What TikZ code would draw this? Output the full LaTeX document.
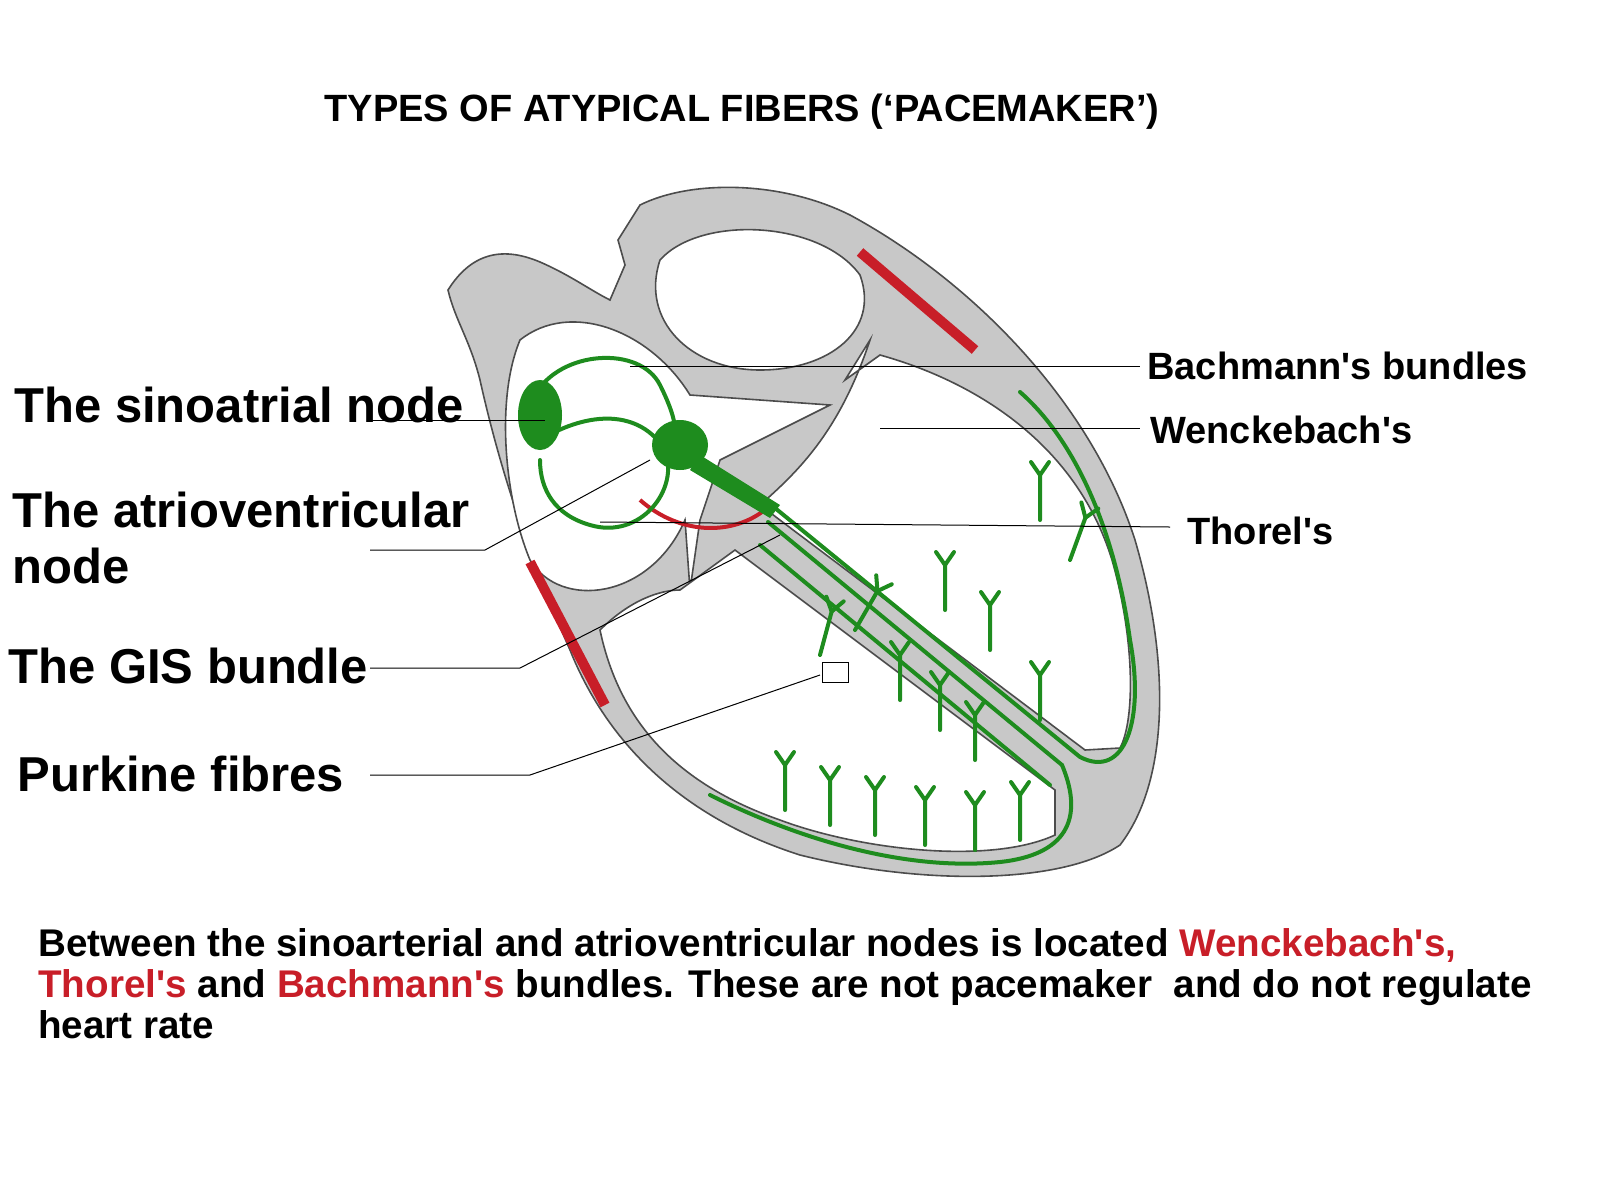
\documentclass[tikz,border=0pt]{standalone}
\usepackage{fontspec}
\setmainfont{Liberation Sans}
\usetikzlibrary{positioning}
\definecolor{wall}{RGB}{200,200,200}
\definecolor{fibre}{RGB}{30,140,30}
\definecolor{scar}{RGB}{200,30,40}
\newcommand\ap{\textquotesingle}
\tikzset{
  label text/.style={font=\bfseries\fontsize{24.5}{29}\selectfont,anchor=west,inner sep=0pt},
  side text/.style={font=\bfseries\fontsize{19}{22}\selectfont,anchor=west,inner sep=0pt},
  leader/.style={black,line width=0.5pt},
  fibre line/.style={fibre,line width=2pt,line cap=round},
  pics/twig/.style={code={
    \draw[fibre line] (0,0) -- (0,-45) -- (-9,-58);
    \draw[fibre line] (0,-45) -- (9,-58);
  }}
}
\begin{document}
\begin{tikzpicture}[x=0.5pt,y=-0.5pt]
\useasboundingbox (0,0) rectangle (1600,1200);
% heart wall
\fill[wall,draw=black!70,line width=0.8pt]
  (448,290) .. controls (470,255) and (500,245) .. (540,262)
  .. controls (570,275) and (590,290) .. (610,300)
  -- (625,265) -- (618,240) -- (640,205)
  .. controls (690,180) and (780,180) .. (850,215)
  .. controls (970,280) and (1090,400) .. (1135,540)
  .. controls (1170,660) and (1170,780) .. (1120,845)
  .. controls (1060,885) and (920,885) .. (800,855)
  .. controls (690,820) and (610,750) .. (570,650)
  .. controls (530,560) and (500,470) .. (480,380)
  .. controls (470,340) and (455,320) .. (448,290) -- cycle;
% chambers
\fill[white,draw=black!70,line width=0.8pt]
  (520,340) .. controls (570,300) and (650,330) .. (690,395)
  -- (830,405) -- (720,460) -- (700,520) -- (690,590) -- (685,520)
  .. controls (650,600) and (560,610) .. (530,560)
  .. controls (505,500) and (495,400) .. (520,340) -- cycle;
\fill[white,draw=black!70,line width=0.8pt]
  (660,260) .. controls (700,215) and (820,220) .. (860,275)
  .. controls (880,330) and (830,370) .. (760,370)
  .. controls (690,370) and (640,320) .. (660,260) -- cycle;
\fill[white,draw=black!70,line width=0.8pt]
  (870,340) -- (845,380) -- (880,355)
  .. controls (970,380) and (1075,440) .. (1112,560)
  .. controls (1135,640) and (1135,720) .. (1120,748)
  -- (1085,750) -- (760,505)
  .. controls (800,470) and (840,430) .. (870,340) -- cycle;
\fill[white,draw=black!70,line width=0.8pt]
  (600,630) .. controls (630,600) and (660,590) .. (680,590)
  -- (735,550) -- (1055,790) -- (1055,835)
  .. controls (990,865) and (860,850) .. (780,820)
  .. controls (680,785) and (620,725) .. (600,630) -- cycle;
% red
\draw[scar,line width=5pt] (860,252) -- (975,350);
\draw[scar,line width=5pt] (530,562) -- (605,705);
\draw[scar,line width=2pt] (640,500) .. controls (680,535) and (730,535) .. (762,512);
% green conduction
\draw[fibre line] (535,395) .. controls (560,350) and (640,345) .. (660,385) .. controls (670,405) and (675,420) .. (675,430);
\draw[fibre line] (540,440) .. controls (590,410) and (640,410) .. (665,450)
  .. controls (680,490) and (640,540) .. (590,525) .. controls (555,515) and (540,490) .. (540,460);
\fill[fibre] (540,415) ellipse (22 and 35);
\fill[fibre] (680,445) ellipse (28 and 25);
\fill[fibre] (700,455) -- (780,505) -- (770,518) -- (690,470) -- cycle;
\draw[fibre line] (775,508) -- (1080,757) .. controls (1125,780) and (1145,720) .. (1130,640)
  .. controls (1115,530) and (1075,440) .. (1020,392);
\draw[fibre line] (768,522) -- (1062,765);
\draw[fibre line] (1062,765) .. controls (1085,820) and (1065,855) .. (1000,862)
  .. controls (900,872) and (790,835) .. (710,795);
\draw[fibre line] (760,545) -- (1050,785);
% purkinje tufts
\foreach \x/\y/\a in {945/610/0, 990/650/0, 1040/720/0, 1040/520/0, 1070/560/-20, 855/630/-30,
  820/655/-15, 900/700/0, 940/730/0, 975/760/0, 785/810/0, 830/825/0, 875/835/0, 925/845/0,
  975/850/0, 1020/840/0}
  \pic[rotate=\a] at (\x,\y) {twig};
% leaders
\draw[leader] (370,420) -- (545,420);
\draw[leader] (630,366) -- (1140,366);
\draw[leader] (880,428) -- (1140,428);
\draw[leader] (600,522) -- (1170,527);
\draw[leader] (370,550) -- (485,550) -- (650,460);
\draw[leader] (370,668) -- (520,668) -- (780,535);
\draw[leader] (370,775) -- (530,775) -- (820,675);
\draw[leader] (822,662) rectangle (848,682);
% labels
\node[font=\bfseries\fontsize{19}{22}\selectfont] (title) at (742,112) {TYPES OF ATYPICAL FIBERS (‘PACEMAKER’)};
\node[label text] (sa) at (14,405) {The sinoatrial node};
\node[label text,align=left] (av) at (12,538) {The atrioventricular\\[-1pt]node};
\node[label text] (gis) at (8,666) {The GIS bundle};
\node[label text] (pur) at (17,774) {Purkine fibres};
\node[side text] (bach) at (1147,366) {Bachmann\ap s bundles};
\node[side text] (wenk) at (1150,430) {Wenckebach\ap s};
\node[side text] (thor) at (1187,531) {Thorel\ap s};
\node[anchor=north west,inner sep=0pt,align=left,font=\bfseries\fontsize{19.3}{20.5}\selectfont] (note) at (38,928)
  {Between the sinoarterial and atrioventricular nodes is located \textcolor{scar}{Wenckebach\ap s,}\\
   \textcolor{scar}{Thorel\ap s} and \textcolor{scar}{Bachmann\ap s} bundles. These are not pacemaker\ \ and do not regulate\\
   heart rate};
\end{tikzpicture}
\end{document}
